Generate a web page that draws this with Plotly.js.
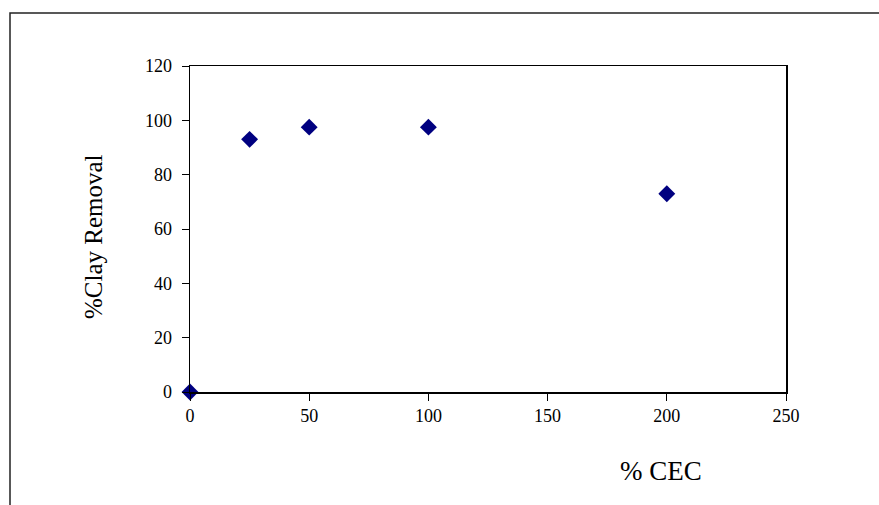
<!DOCTYPE html>
<html>
<head>
<meta charset="utf-8">
<script src="https://cdn.plot.ly/plotly-3.0.1.min.js"></script>
<style>html,body{margin:0;padding:0;background:#fff;}</style>
</head>
<body>
<div id="chart" style="width:879px;height:505px;"></div>
<script>
const cecPercent = [0, 25, 50, 100, 200];
const clayRemoval = [0, 93, 97.5, 97.5, 73];
const xTicks = [0, 50, 100, 150, 200, 250];
const yTicks = [0, 20, 40, 60, 80, 100, 120];

const W = 879, H = 505;
const L = 190, R = 786, T = 66, B = 392;
const px = x => (x - L) / (R - L);
const py = y => (B - y) / (B - T);

const font = "'Liberation Serif', 'Times New Roman', serif";

const trace = {
  x: cecPercent,
  y: clayRemoval,
  type: 'scatter',
  mode: 'markers',
  marker: {symbol: 'diamond', size: 13, color: '#000080'},
  cliponaxis: false,
  showlegend: false
};

const layout = {
  width: W, height: H,
  margin: {l: L, r: W - R, t: T, b: H - B},
  paper_bgcolor: '#fff', plot_bgcolor: '#fff',
  font: {family: font, size: 18, color: '#000'},
  xaxis: {
    range: [0, 250], tickvals: xTicks, ticktext: xTicks.map(String),
    showgrid: false, zeroline: false,
    showline: true, linecolor: '#000', linewidth: 1.5, mirror: true,
    ticks: 'outside', ticklen: 7, tickwidth: 1, tickcolor: '#000',
    tickfont: {family: font, size: 18, color: '#000'}
  },
  yaxis: {
    range: [0, 120], tickvals: yTicks, ticktext: yTicks.map(String),
    showgrid: false, zeroline: false,
    showline: true, linecolor: '#000', linewidth: 1.5, mirror: true,
    ticks: 'outside', ticklen: 7, tickwidth: 1, tickcolor: '#000',
    ticklabelstandoff: 6,
    tickfont: {family: font, size: 18, color: '#000'}
  },
  annotations: [{
    text: '% CEC', xref: 'paper', yref: 'paper',
    x: px(661), y: py(471), xanchor: 'center', yanchor: 'middle',
    showarrow: false, font: {family: font, size: 27, color: '#000'}
  }, {
    text: '%Clay Removal', xref: 'paper', yref: 'paper', textangle: -90,
    x: px(93), y: py(237), xanchor: 'center', yanchor: 'middle',
    showarrow: false, font: {family: font, size: 25, color: '#000'}
  }],
  shapes: [{
    type: 'rect', xref: 'paper', yref: 'paper',
    x0: px(10), x1: px(895), y0: py(520), y1: py(13),
    line: {color: '#222', width: 1.5}, fillcolor: 'rgba(0,0,0,0)', layer: 'below'
  }]
};

Plotly.newPlot('chart', [trace], layout, {displayModeBar: false, staticPlot: true});
</script>
</body>
</html>
